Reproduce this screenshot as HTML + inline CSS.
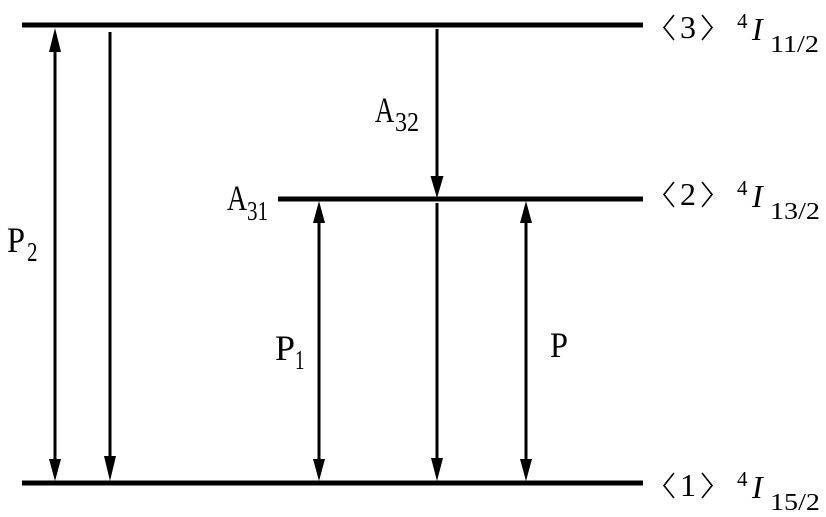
<!DOCTYPE html>
<html><head><meta charset="utf-8"><style>
html,body{margin:0;padding:0;background:#fff;}
#wrap{position:relative;width:826px;height:517px;overflow:hidden;}
svg{display:block;position:absolute;left:0;top:0;}
.t{position:absolute;white-space:nowrap;line-height:1;transform-origin:0 0;color:#000;
font-family:"Liberation Serif","DejaVu Serif","Noto Serif CJK SC","Times New Roman",serif;font-weight:normal;}
.i{font-style:italic;}
</style></head><body>
<div id="wrap">
<svg width="826" height="517" viewBox="0 0 826 517" xmlns="http://www.w3.org/2000/svg">
<rect x="22" y="22.5" width="621" height="5" fill="#000"/>
<rect x="278" y="196.5" width="365" height="5" fill="#000"/>
<rect x="22" y="480.5" width="621" height="5" fill="#000"/>
<g stroke="#000" stroke-width="3" fill="none">
<line x1="55" y1="48" x2="55" y2="462"/>
<line x1="110" y1="32" x2="110" y2="460"/>
<line x1="437" y1="29" x2="437" y2="180"/>
<line x1="437" y1="203" x2="437" y2="462"/>
<line x1="319" y1="220" x2="319" y2="462"/>
<line x1="526" y1="220" x2="526" y2="462"/>
</g>
<g fill="#000">
<polygon points="55,28 49,52 61,52"/>
<polygon points="55,481 49,459 61,459"/>
<polygon points="110,481 104,456 116,456"/>
<polygon points="437,198 430.5,176 443.5,176"/>
<polygon points="437,481 431,458 443,458"/>
<polygon points="319,201 313,223 325,223"/>
<polygon points="319,481 313,459 325,459"/>
<polygon points="526,201 520,223 532,223"/>
<polygon points="526,481 520,459 532,459"/>
</g>
<g stroke="#000" stroke-width="1.6" fill="none">
<polyline points="674,15 664,27.5 674,40"/>
<polyline points="702,15 712,27.5 702,40"/>
<polyline points="674,182 664,194.5 674,207"/>
<polyline points="702,182 712,194.5 702,207"/>
<polyline points="674,473 664,485.5 674,498"/>
<polyline points="702,473 712,485.5 702,498"/>
</g>
</svg>

<!-- left labels -->
<div class="t" style="left:7px;top:222px;font-size:36px;transform:scaleX(0.9)">P</div>
<div class="t" style="left:27px;top:239px;font-size:27px;transform:scaleX(0.78)">2</div>

<div class="t" style="left:227px;top:180px;font-size:36px;transform:scaleX(0.77)">A</div>
<div class="t" style="left:247px;top:198px;font-size:27px;transform:scaleX(0.78)">31</div>

<div class="t" style="left:375px;top:92px;font-size:36px;transform:scaleX(0.74)">A</div>
<div class="t" style="left:395px;top:109px;font-size:27px;transform:scaleX(0.89)">32</div>

<div class="t" style="left:275px;top:330px;font-size:36px;">P</div>
<div class="t" style="left:295px;top:347px;font-size:27px;transform:scaleX(0.7)">1</div>

<div class="t" style="left:550px;top:327px;font-size:36px;transform:scaleX(0.9)">P</div>

<!-- right labels -->
<div class="t" style="left:680px;top:11px;font-size:32px;">3</div>
<div class="t" style="left:680px;top:178px;font-size:32px;">2</div>
<div class="t" style="left:680px;top:469px;font-size:32px;">1</div>

<div class="t" style="left:737px;top:11px;font-size:21px;">4</div>
<div class="t i" style="left:752px;top:13px;font-size:32px;">I</div>
<div class="t" style="left:770px;top:33px;font-size:24px;transform:scaleX(1.17)">11/2</div>

<div class="t" style="left:737px;top:178px;font-size:21px;">4</div>
<div class="t i" style="left:752px;top:180px;font-size:32px;">I</div>
<div class="t" style="left:770px;top:200px;font-size:24px;transform:scaleX(1.17)">13/2</div>

<div class="t" style="left:737px;top:469px;font-size:21px;">4</div>
<div class="t i" style="left:752px;top:471px;font-size:32px;">I</div>
<div class="t" style="left:770px;top:491px;font-size:24px;transform:scaleX(1.17)">15/2</div>
</div>
</body></html>
